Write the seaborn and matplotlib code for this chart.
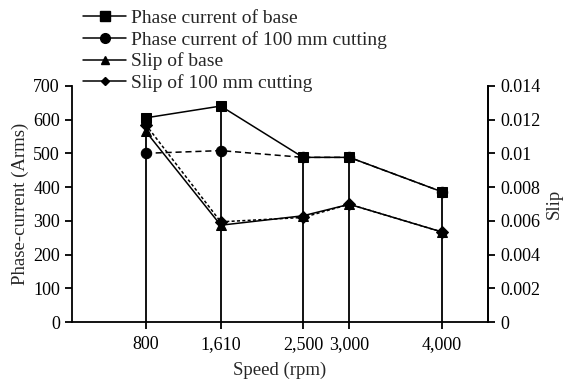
import matplotlib
matplotlib.use("Agg")
import matplotlib.pyplot as plt
import matplotlib.ticker as mticker
from matplotlib.lines import Line2D
import seaborn as sns
import pandas as pd
import numpy as np

# ---- data ----
speed = [800, 1610, 2500, 3000, 4000]
speed_labels = ["800", "1,610", "2,500", "3,000", "4,000"]
current_base = [605, 640, 488, 488, 386]
current_cut = [500, 508, 488, 488, 386]
slip_base = [0.0113, 0.00574, 0.0063, 0.00698, 0.00534]
slip_cut = [0.0117, 0.00594, 0.0062, 0.00698, 0.00534]
series_names = ["Phase current of base", "Phase current of 100 mm cutting",
                "Slip of base", "Slip of 100 mm cutting"]

sns.set_style("ticks")
plt.rcParams["font.family"] = ["Liberation Serif", "DejaVu Serif"]
plt.rcParams["font.size"] = 13

cur_df = pd.DataFrame({
    "speed": speed * 2,
    "value": current_cut + current_base,
    "series": [series_names[1]] * 5 + [series_names[0]] * 5,
})
slip_df = pd.DataFrame({
    "speed": speed * 2,
    "value": slip_cut + slip_base,
    "series": [series_names[3]] * 5 + [series_names[2]] * 5,
})

fig = plt.figure(figsize=(5.69, 3.83), dpi=100)
ax = fig.add_axes([0.126, 0.159, 0.732, 0.617])
ax2 = ax.twinx()

# drop lines from the top series
ax.vlines(speed, 0, np.maximum(current_base, current_cut), color="black", lw=1.3, zorder=1)

sns.lineplot(data=cur_df, x="speed", y="value", style="series", ax=ax,
             markers={series_names[0]: "s", series_names[1]: "o"},
             dashes={series_names[0]: "", series_names[1]: (4, 2.5)},
             color="black", lw=1.1, markersize=7.5, markeredgecolor="black",
             legend=False, zorder=3)
sns.lineplot(data=slip_df, x="speed", y="value", style="series", ax=ax2,
             markers={series_names[2]: "^", series_names[3]: "D"},
             dashes={series_names[2]: "", series_names[3]: (2, 1.5)},
             color="black", lw=1.1, markersize=6.5, markeredgecolor="black",
             legend=False)

ax.set_xlim(0, 4500)
ax.set_ylim(0, 700)
ax2.set_ylim(0, 0.014)
ax.set_xticks(speed)
ax.set_xticklabels(speed_labels)
ax.set_yticks(range(0, 701, 100))
ax2.set_yticks(np.arange(0, 0.0141, 0.002))
ax2.yaxis.set_major_formatter(mticker.FuncFormatter(lambda v, p: "%g" % round(v, 4)))

ax.set_xlabel("Speed (rpm)", labelpad=6, fontsize=13.5)
ax.set_ylabel("Phase-current (Arms)", labelpad=3, fontsize=13.5)
ax2.set_ylabel("Slip", labelpad=4, fontsize=13.5)

for a in (ax, ax2):
    a.spines["top"].set_visible(False)
    for s in ("left", "right", "bottom"):
        a.spines[s].set_linewidth(1.3)
        a.spines[s].set_color("black")
    a.tick_params(colors="black", width=1.3, length=5, labelsize=13)
ax.tick_params(axis="x", pad=5)
ax2.spines["left"].set_visible(False)
ax2.spines["bottom"].set_visible(False)

handles = [
    Line2D([], [], color="black", lw=1.1, marker="s", markersize=7),
    Line2D([], [], color="black", lw=1.1, marker="o", markersize=7),
    Line2D([], [], color="black", lw=1.1, marker="^", markersize=6),
    Line2D([], [], color="black", lw=1.1, marker="D", markersize=4),
]
fig.legend(handles, series_names, loc="upper left", bbox_to_anchor=(0.133, 0.995),
           frameon=False, fontsize=14, handlelength=2.2, handletextpad=0.25,
           labelspacing=0.19, borderaxespad=0)

fig.savefig("out.png", dpi=100)
